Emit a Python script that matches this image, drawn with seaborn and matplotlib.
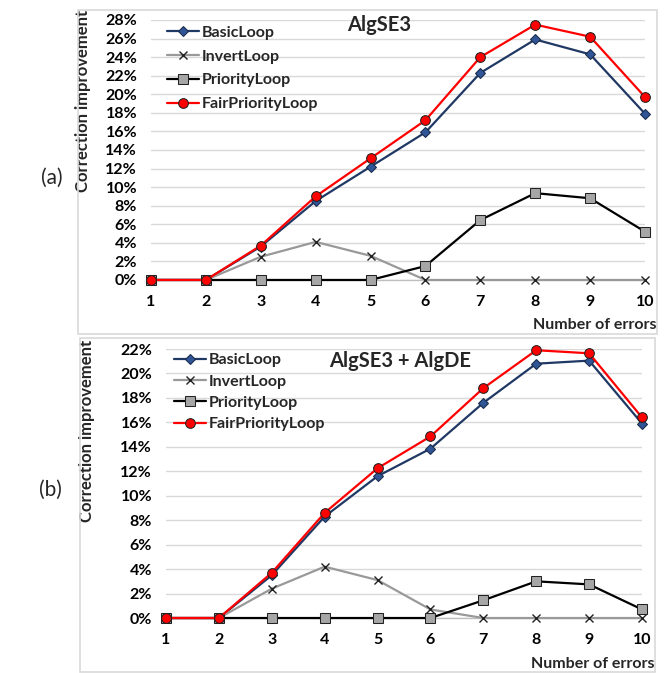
import matplotlib
matplotlib.use("Agg")
import matplotlib.pyplot as plt
import matplotlib.patches as mpatches
from matplotlib.ticker import PercentFormatter, MultipleLocator
import seaborn as sns
import pandas as pd

# ---------------- data ----------------
errors = [1, 2, 3, 4, 5, 6, 7, 8, 9, 10]
series_names = ["BasicLoop", "InvertLoop", "PriorityLoop", "FairPriorityLoop"]

a_basic = [0.0, 0.0, 3.6, 8.5, 12.2, 15.9, 22.3, 25.9, 24.3, 17.9]
a_invert = [0.0, 0.0, 2.5, 4.1, 2.6, 0.0, 0.0, 0.0, 0.0, 0.0]
a_priority = [0.0, 0.0, 0.0, 0.0, 0.0, 1.5, 6.45, 9.35, 8.8, 5.2]
a_fair = [0.0, 0.0, 3.7, 9.0, 13.1, 17.2, 24.0, 27.5, 26.2, 19.7]

b_basic = [0.0, 0.0, 3.5, 8.3, 11.6, 13.85, 17.6, 20.8, 21.05, 15.9]
b_invert = [0.0, 0.0, 2.4, 4.2, 3.1, 0.7, 0.0, 0.0, 0.0, 0.0]
b_priority = [0.0, 0.0, 0.0, 0.0, 0.0, 0.0, 1.45, 3.0, 2.75, 0.7]
b_fair = [0.0, 0.0, 3.7, 8.6, 12.25, 14.85, 18.8, 21.9, 21.65, 16.4]

titles = ["AlgSE3", "AlgSE3 + AlgDE"]
panel_tags = ["(a)", "(b)"]
ymax = [28, 22]

# ---------------- style ----------------
sns.set_theme(style="white")
plt.rcParams["font.family"] = ["Lato", "DejaVu Sans"]

styles = {
    "BasicLoop": dict(color="#1F3864", marker="D", markersize=5.5,
                      markerfacecolor="#2F5597", markeredgecolor="#1A2A4A"),
    "InvertLoop": dict(color="#999999", marker="x", markersize=6,
                       markerfacecolor="black", markeredgecolor="#222222",
                       markeredgewidth=1.0),
    "PriorityLoop": dict(color="black", marker="s", markersize=7,
                         markerfacecolor="#A6A6A6", markeredgecolor="#222222"),
    "FairPriorityLoop": dict(color="#FF0000", marker="o", markersize=7,
                             markerfacecolor="#FF0000", markeredgecolor="#222222"),
}

fig = plt.figure(figsize=(6.64, 6.73), dpi=100)

# panel border boxes
for (x0, y0, w, h) in [(0.1175, 0.5037, 0.872, 0.4814), (0.1205, 0.0015, 0.866, 0.4963)]:
    fig.patches.append(mpatches.Rectangle((x0, y0), w, h, transform=fig.transFigure,
                                          fill=False, edgecolor="#D9D9D9", linewidth=1.2))

axes_pos = [[0.2274, 0.5840, 0.744, 0.3863], [0.2500, 0.0817, 0.7169, 0.3997]]
ylabel_xy = [(-0.122, 0.69), (-0.149, 0.695)]
xlabel_xy = [(1.024, -0.173), (1.027, -0.171)]
title_xy = [(0.4615, 0.98), (0.4916, 0.955)]
legend_xy = [(0.032, 0.978), (0.017, 0.985)]
legend_spacing = [0.6, 0.45]
tag_xy = [(52 / 664, 1 - 178 / 673), (50 / 664, 1 - 490 / 673)]

panels = [
    [a_basic, a_invert, a_priority, a_fair],
    [b_basic, b_invert, b_priority, b_fair],
]

FS = 11.5

for i, vals in enumerate(panels):
    ax = fig.add_axes(axes_pos[i])
    rows = []
    for name, v in zip(series_names, vals):
        for e, val in zip(errors, v):
            rows.append({"errors": e, "value": val, "series": name})
    df = pd.DataFrame(rows)
    for name in series_names:
        sub = df[df["series"] == name]
        st = styles[name]
        sns.lineplot(data=sub, x="errors", y="value", ax=ax, label=name,
                     linewidth=1.6, clip_on=False, zorder=3, **st)
    ax.set_xlim(1, 10)
    ax.set_ylim(0, ymax[i])
    ax.set_xticks(errors)
    ax.yaxis.set_major_locator(MultipleLocator(2))
    ax.yaxis.set_major_formatter(PercentFormatter(decimals=0))
    ax.grid(axis="y", color="#D9D9D9", linewidth=1.0)
    ax.grid(axis="x", visible=False)
    for s in ["top", "right", "left"]:
        ax.spines[s].set_visible(False)
    ax.spines["bottom"].set_color("#BFBFBF")
    ax.spines["bottom"].set_linewidth(1.0)
    ax.tick_params(axis="both", length=0, labelsize=FS, colors="black")
    ax.tick_params(axis="x", pad=10.5)
    ax.tick_params(axis="y", pad=10)
    for lab in ax.get_xticklabels() + ax.get_yticklabels():
        lab.set_fontweight("bold")
    ax.set_ylabel("Correction improvement", fontsize=12, fontweight="bold")
    ax.yaxis.set_label_coords(*ylabel_xy[i])
    ax.set_xlabel("Number of errors", fontsize=FS, fontweight="bold", ha="right", va="center")
    ax.xaxis.set_label_coords(*xlabel_xy[i])
    ax.text(title_xy[i][0], title_xy[i][1], titles[i], transform=ax.transAxes,
            ha="center", va="center", fontsize=14.5, fontweight="bold")
    leg = ax.legend(loc="upper left", bbox_to_anchor=legend_xy[i], frameon=False,
                    borderaxespad=0, borderpad=0, handlelength=2.0, handletextpad=0.2,
                    labelspacing=legend_spacing[i], prop={"weight": "bold", "size": FS})
    fig.text(tag_xy[i][0], tag_xy[i][1], panel_tags[i], ha="center", va="center", fontsize=15)

fig.savefig("out.png", dpi=100)
